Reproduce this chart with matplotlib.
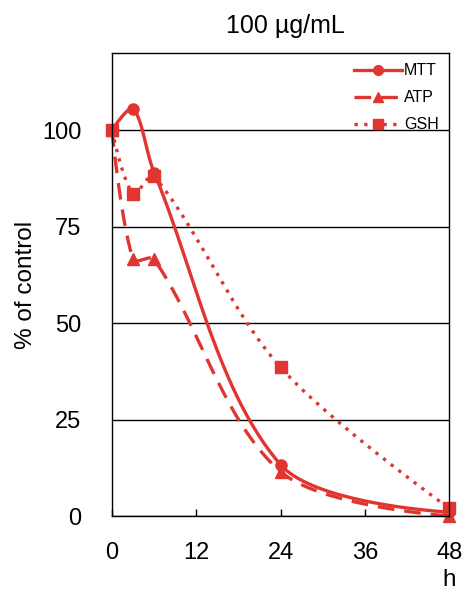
import numpy as np
import matplotlib
matplotlib.use("Agg")
from matplotlib import pyplot as plt

plt.rcParams['font.family'] = ['Liberation Sans', 'DejaVu Sans']

horas = [0, 3, 6, 24, 48]
mtt = [100, 105.5, 89, 13.3, 1]
atp = [100, 66.5, 66.5, 11.5, 0]
gsh = [100, 83.5, 88, 38.5, 2]

vermelho = "#e03530"


def suaviza(ax, x, y, n=40):
    # bezier tipo Excel, feito em pixels, com tangente proporcional ao tamanho do trecho
    p = ax.transData.transform(np.column_stack([x, y]))
    d = np.hypot(*np.diff(p, axis=0).T)
    k = len(p)
    c_ant = p.copy()
    c_pos = p.copy()
    for i in range(1, k - 1):
        v = p[i + 1] - p[i - 1]
        soma = d[i - 1] + d[i]
        c_ant[i] = p[i] - v * d[i - 1] / soma / 3
        c_pos[i] = p[i] + v * d[i] / soma / 3
    t = np.linspace(0, 1, n)[:, None]
    pts = []
    for i in range(k - 1):
        b = ((1-t)**3 * p[i] + 3*(1-t)**2*t * c_pos[i]
             + 3*(1-t)*t**2 * c_ant[i+1] + t**3 * p[i+1])
        pts.append(b)
    pts = ax.transData.inverted().transform(np.vstack(pts))
    return pts[:, 0], pts[:, 1]


fig = plt.figure(figsize=(4.69, 5.96), dpi=100)
ax = fig.add_axes([0.2388, 0.1342, 0.719, 0.777])
ax.set_xlim(0, 48)
ax.set_ylim(0, 120)

series = [
    ("MTT", mtt, "-", "o", 2.4),
    ("ATP", atp, (0, (5, 3)), "^", 2.4),
    ("GSH", gsh, (0, (1, 1.9)), "s", 2.4),
]
for nome, valores, estilo, marca, lw in series:
    sx, sy = suaviza(ax, horas, valores)
    ax.plot(sx, sy, color=vermelho, linestyle=estilo, linewidth=lw, clip_on=False)
    ax.plot(horas, valores, linestyle="none", marker=marca, color=vermelho,
            markersize=8, clip_on=False)
    ax.plot([], [], color=vermelho, linestyle=estilo, linewidth=lw,
            marker=marca, markersize=7, label=nome)

ax.set_xticks([0, 12, 24, 36, 48])
ax.set_yticks([0, 25, 50, 75, 100])
ax.tick_params(axis="x", direction="in", length=5, width=1, pad=19, labelsize=17)
ax.tick_params(axis="y", length=0, pad=22, labelsize=17)
ax.grid(axis="y", color="black", linewidth=1)
for s in ax.spines.values():
    s.set_linewidth(1)

ax.set_ylabel("% of control", fontsize=17.5, labelpad=4)
ax.text(0.513, 1.043, "100 µg/mL", transform=ax.transAxes, ha="center",
        va="baseline", fontsize=18)
ax.text(1.0, -0.138, "h", transform=ax.transAxes, ha="center", va="center", fontsize=17.5)

ax.legend(loc="upper right", frameon=False, fontsize=11.5, handlelength=3.0,
          handletextpad=0.15, borderaxespad=0.25, labelspacing=0.75)

plt.savefig("out.png", dpi=100)
